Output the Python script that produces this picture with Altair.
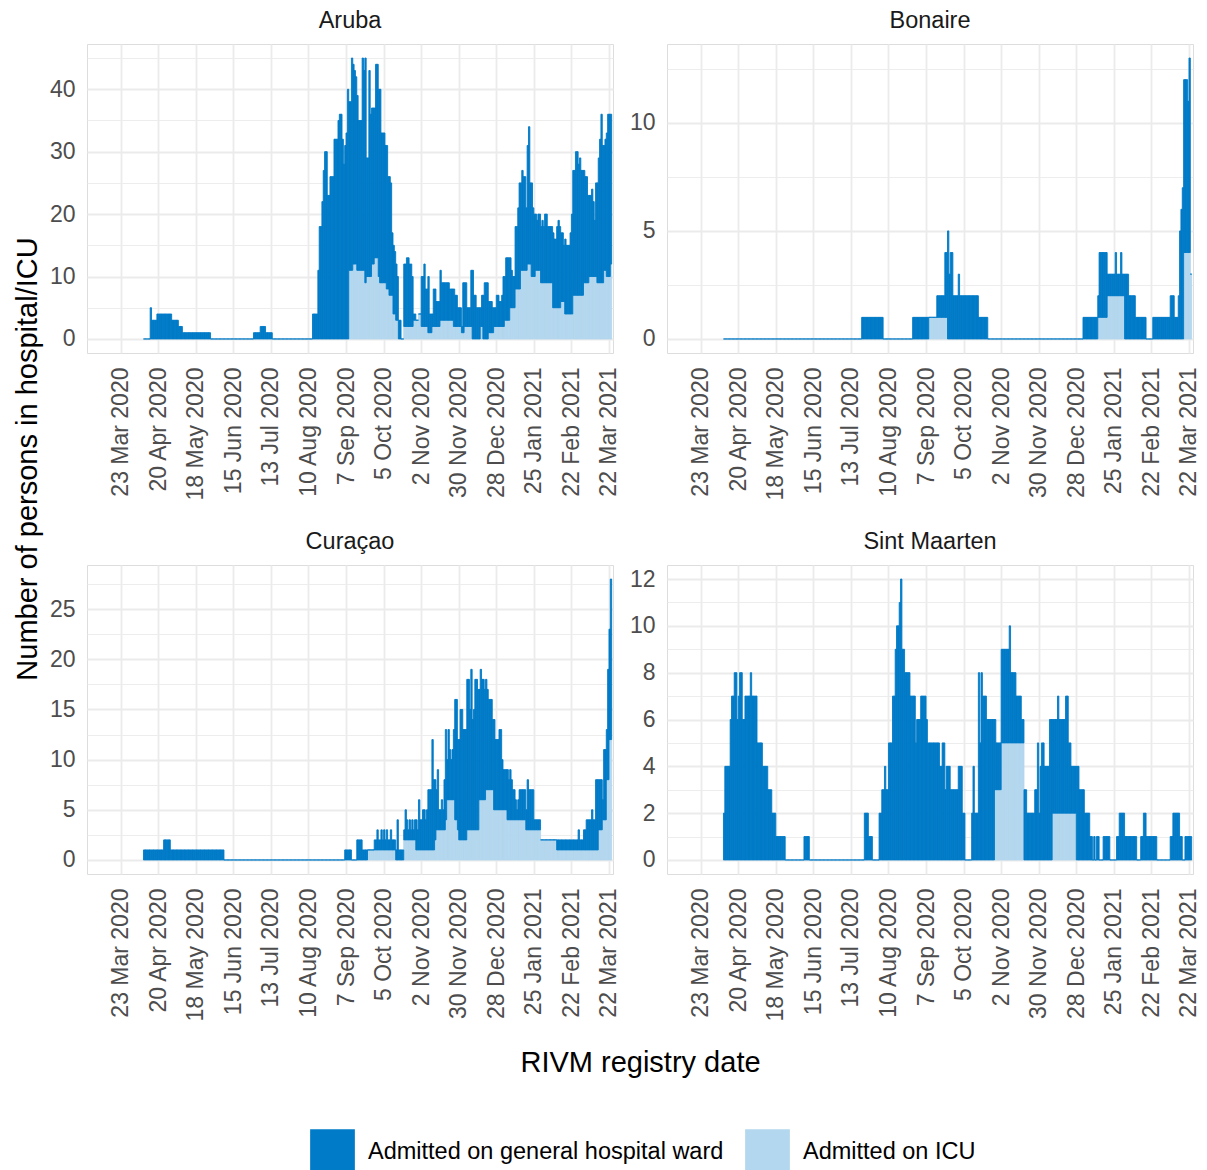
import altair as alt
import pandas as pd

WARD = "Admitted on general hospital ward"
ICU = "Admitted on ICU"
DARK = "#007BC7"
LIGHT = "#B3D7EE"
GRID = "#EBEBEB"
LABEL = "#4D4D4D"

REGIONS = ["Aruba", "Bonaire", "Curaçao", "Sint Maarten"]
FIRST_DAY = 17  # 9 Apr 2020; days are counted from 23 Mar 2020

TICK_DAYS = [0, 28, 56, 84, 112, 140, 168, 196, 224, 252, 280, 308, 336, 364]
TICK_LABELS = ["23 Mar 2020", "20 Apr 2020", "18 May 2020", "15 Jun 2020", "13 Jul 2020",
               "10 Aug 2020", "7 Sep 2020", "5 Oct 2020", "2 Nov 2020", "30 Nov 2020",
               "28 Dec 2020", "25 Jan 2021", "22 Feb 2021", "22 Mar 2021"]

# daily values from FIRST_DAY; (value, n) = the same value on n consecutive days
ARUBA_TOTAL = [
    (0, 5), 5, (3, 4), (4, 11), (3, 5), (2, 3), (1, 21), (0, 32), (1, 5), (2, 4), (1, 5), (0, 30), (4, 4),
    11, 18, 18, 22, 27, 30, 30, 23, 23, 26,
    26, 26, 32, 32, 32, 35, 36, 36, 32, 28,
    31, 33, 40, 38, 38, 45, 44, 43, 42, 39,
    35, 35, 35, 45, 43, 45, 29, 29, 43, 36,
    37, 37, 37, 44, 44, 40, 40, 33, 33, 33,
    31, 31, 26, 26, 25, 17, 15, 14, 12, 10,
    3, 3, 0, 0,
    12, 12, 13, 13, 12, 12, 10, 4, 4, 3,
    3, 4, 4, 10, 10, 12, 8, 8, 10, 4,
    4, 4, 8, 8, 6, 6, 6, 11, 9, 9,
    9, 9, 9, 9, 8, 8, 8, 8, 7, 7,
    5, 5, 5, 2, 9, 9, 9, 5, 5, 5,
    11, 11, 7, 7, 5, 5, 5, 5, 7, 7,
    9, 9, 9, 6, 6, 6, 5, 5, 5, 7,
    7, 6, 6, 7, 10, 10, 13, 13, 13, 13,
    11, 10, 10, 18, 18, 21, 25, 25, 27, 26,
    26, 21, 31, 34, 25, 25, 21, 20, 20, 19,
    20, 20, 18, 19, 18, 20, 20, 18, 18, 18,
    18, 17, 16, 16, 18, 19, 18, 17, 17, 15,
    16, 15, 15, 15, 17, 20, 27, 27, 30, 30,
    28, 29, 27, 27, 27, 26, 26, 23, 23, 23,
    24, 22, 19, 25, 25, 29, 32, 36, 31, 31,
    32, 33, 36, 36, 36,
]
ARUBA_ICU = [
    (0, 153), (11, 3), (12, 3), (11, 6), 9, (10, 4), (12, 2), (13, 3), 10, (9, 5), (8, 2), (7, 3),
    (4, 2), (3, 2), (0, 4), (2, 7), (3, 4), (4, 2), (2, 5), (1, 3), (2, 6), (3, 10), (2, 6), (1, 2),
    (2, 6), (0, 6), (2, 2), (0, 4), (1, 4), (2, 8), (3, 4), (5, 4), (8, 4), (11, 5), (12, 3), (10, 3),
    (11, 4), (9, 9), (5, 6), (6, 3), (4, 6), (7, 8), (9, 4), (10, 6), (9, 5), (11, 2), (10, 3), 12,
]

BONAIRE_TOTAL = [
    (0, 103), (1, 16), (0, 22), (1, 12), (1, 6), (2, 6), 4, 4, 5, 3, 4, 4, (2, 4), 3, (2, 14), (1, 7),
    (0, 71), (1, 11), 2, (4, 6), (3, 6), 4, 3, 3, 3, 4, 3, 3, (3, 3), (2, 5), (1, 8), (0, 5), (1, 13),
    (2, 3), (1, 3), 2, 5, 6, 7, 12, 12, 12, 11, 13, 3,
]
BONAIRE_ICU = [(0, 153), (1, 14), (0, 112), (1, 7), (2, 13), (0, 44), (4, 5), 3]

CURACAO_TOTAL = [
    (1, 15), (2, 5), (1, 40), (0, 90), (1, 5), (0, 4), (2, 4), (1, 4), (1, 5),
    2, 2, 3, 2, 2, 3, 2, 3, 2, 3,
    2, 2, 3, 2, 2, 2, 1, 4, 1, 1,
    1, 1, 3, 5, 4, 3, 4, 3, 4, 3,
    4, 4, 3, 6, 4, 4, 5, 5, 4, 5,
    7, 7, 7, 12, 8, 8, 7, 9, 5, 5,
    6, 5, 8, 13, 10, 13, 11, 10, 11, 13,
    16, 16, 12, 12, 15, 15, 13, 13, 13, 18,
    18, 15, 19, 14, 15, 18, 18, 17, 17, 19,
    18, 18, 17, 18, 17, 16, 16, 16, 14, 14,
    12, 12, 12, 13, 13, 10, 9, 9, 9, 9,
    8, 9, 8, 7, 7, 6, 5, 6, 7, 7,
    7, 7, 7, 5, 8, 7, 7, 7, 7, 4,
    4, 4, 4, 4,
    (2, 28), 3, (2, 3), (3, 2), (4, 4), 5, (4, 2), (8, 5), 6, (11, 2), 13, 19, 23, 28,
]
CURACAO_ICU = [
    (0, 167), (1, 21), (0, 6), (2, 9), (1, 14), 2, (3, 7), 4, (6, 6), (4, 2), 3, (2, 6), (3, 9),
    (6, 5), (7, 6), (5, 10), (4, 14), (3, 11), (2, 12), (1, 31), (3, 3), (4, 3), (8, 2), (12, 2),
]

SINT_MAARTEN_TOTAL = [
    2, (4, 4), 6, 7, 7, 8, 8, 6, 7, 8, 8, 6, 6, (7, 4), 8, (7, 4), (5, 4), (4, 4), (3, 3), (2, 3),
    (1, 7), (0, 14), (1, 4), (0, 41), (2, 3), (1, 3), (0, 5),
    2, 2, 3, 3, 4, 3, 3, 5, 5, 5,
    7, 7, 9, 10, 10, 11, 12, 9, 9, 8,
    8, 8, 8, 7, 7, 7, 7, 5, 6, 6,
    6, 7, 7, 7, 7, 6, 5,
    (5, 8), 4, 4, 5, 5, 3, 4, 4, 4, (3, 6), (4, 3), (2, 2), (0, 5), 2, 4, (2, 3), 8, 5, 8, (7, 3),
    (6, 7), (5, 4), (9, 6), 10, (8, 4), (7, 4), (6, 2), (3, 2), (2, 6), (3, 2), 5, 2, 4, 5, 5,
    (4, 4), (6, 6), 7, (6, 5), 7, 7, 5, 5, (4, 6), (3, 4), (2, 4), 1, 1, 0, 1, 0, 1, 1, (0, 3),
    (1, 5), (0, 5), (1, 2), (2, 4), (1, 9), (0, 3), (1, 2), (2, 2), (1, 8), (0, 10), (1, 2), (2, 5),
    (1, 2), (0, 2), (1, 5),
]
SINT_MAARTEN_ICU = [(0, 202), (3, 5), (5, 17), (0, 21), (2, 18), (0, 86)]

TOTALS = {"Aruba": ARUBA_TOTAL, "Bonaire": BONAIRE_TOTAL, "Curaçao": CURACAO_TOTAL,
          "Sint Maarten": SINT_MAARTEN_TOTAL}
ICUS = {"Aruba": ARUBA_ICU, "Bonaire": BONAIRE_ICU, "Curaçao": CURACAO_ICU,
        "Sint Maarten": SINT_MAARTEN_ICU}

Y_TICKS = {
    "Aruba": [0, 5, 10, 15, 20, 25, 30, 35, 40, 45],
    "Bonaire": [0, 2.5, 5, 7.5, 10, 12.5],
    "Curaçao": [0, 2.5, 5, 7.5, 10, 12.5, 15, 17.5, 20, 22.5, 25, 27.5],
    "Sint Maarten": [0, 1, 2, 3, 4, 5, 6, 7, 8, 9, 10, 11, 12],
}
Y_LABELED = {
    "Aruba": [0, 10, 20, 30, 40],
    "Bonaire": [0, 5, 10],
    "Curaçao": [0, 5, 10, 15, 20, 25],
    "Sint Maarten": [0, 2, 4, 6, 8, 10, 12],
}


def expand(items):
    vals = []
    for it in items:
        if isinstance(it, tuple):
            vals.extend([it[0]] * it[1])
        else:
            vals.append(it)
    return vals


icu_rows, ward_rows, ymax = [], [], {}
for region in REGIONS:
    tot = expand(TOTALS[region])
    icu = expand(ICUS[region])
    ymax[region] = max(max(tot), max(icu))
    for i, t in enumerate(tot):
        d = FIRST_DAY + i
        c = icu[i] if i < len(icu) else 0
        top = max(t, c)
        if c > 0:
            icu_rows.append({"region": region, "x0": d, "x1": d + 1, "y0": 0, "y1": c, "series": ICU})
        ward_rows.append({"region": region, "x0": d, "x1": d + 1, "y0": c, "y1": top, "series": WARD})
data = pd.DataFrame(icu_rows + ward_rows)

X_EXPR = ("[" + ",".join("'" + s + "'" for s in TICK_LABELS) + "][indexof(["
          + ",".join(str(v) for v in TICK_DAYS) + "], datum.value)]")

color_scale = alt.Scale(domain=[WARD, ICU], range=[DARK, LIGHT])
legend = alt.Legend(title=None, orient="none", legendX=223, legendY=1085, direction="horizontal",
                    symbolType="square", symbolSize=2000, symbolStrokeWidth=0,
                    labelFontSize=23.5, labelColor="#000000", labelOffset=13, columnPadding=21,
                    labelLimit=0)


def panel(region, ytitle=False, xtitle=False):
    sub = data[data["region"] == region]
    m = ymax[region]
    major = "[" + ",".join(str(v) for v in Y_LABELED[region]) + "]"
    test = "indexof(" + major + ", datum.value) >= 0"
    xkw = dict(title=None)
    if xtitle:
        xkw = dict(title="RIVM registry date", titleFontSize=29, titleFontWeight="normal",
                   titleColor="#000000", titleX=553, titleY=197, titleAlign="center",
                   titleBaseline="alphabetic", titleAngle=0)
    ykw = dict(title=None)
    if ytitle:
        ykw = dict(title="Number of persons in hospital/ICU", titleFontSize=29,
                   titleFontWeight="normal", titleColor="#000000", titleX=-51, titleY=414.5,
                   titleAlign="center", titleBaseline="alphabetic", titleAngle=270)
    xaxis = alt.Axis(values=TICK_DAYS, labelExpr=X_EXPR, labelAngle=270, labelOverlap=False,
                     labelFlush=False, labelFontSize=23, labelColor=LABEL, labelPadding=14,
                     ticks=False, domain=False, grid=True, gridColor=GRID, gridWidth=1.8, **xkw)
    yaxis = alt.Axis(values=Y_TICKS[region], labelExpr=test + " ? datum.label : ''",
                     labelOverlap=False, labelFlush=False, labelFontSize=23, labelColor=LABEL,
                     labelPadding=12, ticks=False, domain=False, grid=True, gridColor=GRID,
                     gridWidth={"condition": {"test": test, "value": 1.8}, "value": 0.9}, **ykw)
    return alt.Chart(sub).mark_rect(strokeWidth=0.9).encode(
        x=alt.X("x0:Q", scale=alt.Scale(domain=[-25.1, 367.0], nice=False, zero=False), axis=xaxis),
        x2="x1:Q",
        y=alt.Y("y0:Q", scale=alt.Scale(domain=[-0.05 * m, 1.05 * m], nice=False, zero=False), axis=yaxis),
        y2="y1:Q",
        color=alt.Color("series:N", scale=color_scale, legend=legend),
        stroke=alt.Stroke("series:N", scale=color_scale, legend=None),
    ).properties(
        width=526, height=309,
        title=alt.TitleParams(text=region, fontSize=23.5, fontWeight="normal", color="#1A1A1A",
                              anchor="middle", frame="group", offset=-7, baseline="alphabetic"),
    )


chart = alt.concat(
    panel("Aruba", ytitle=True),
    panel("Bonaire"),
    panel("Curaçao", xtitle=True),
    panel("Sint Maarten"),
    columns=2, spacing={"row": 212, "column": 54}, bounds="flush",
).properties(
    padding={"left": 12, "top": 8, "right": 5, "bottom": 5},
).configure_view(stroke=None).configure(font="Liberation Sans")

chart.save("out.html", embed_options={"renderer": "svg", "actions": False})
